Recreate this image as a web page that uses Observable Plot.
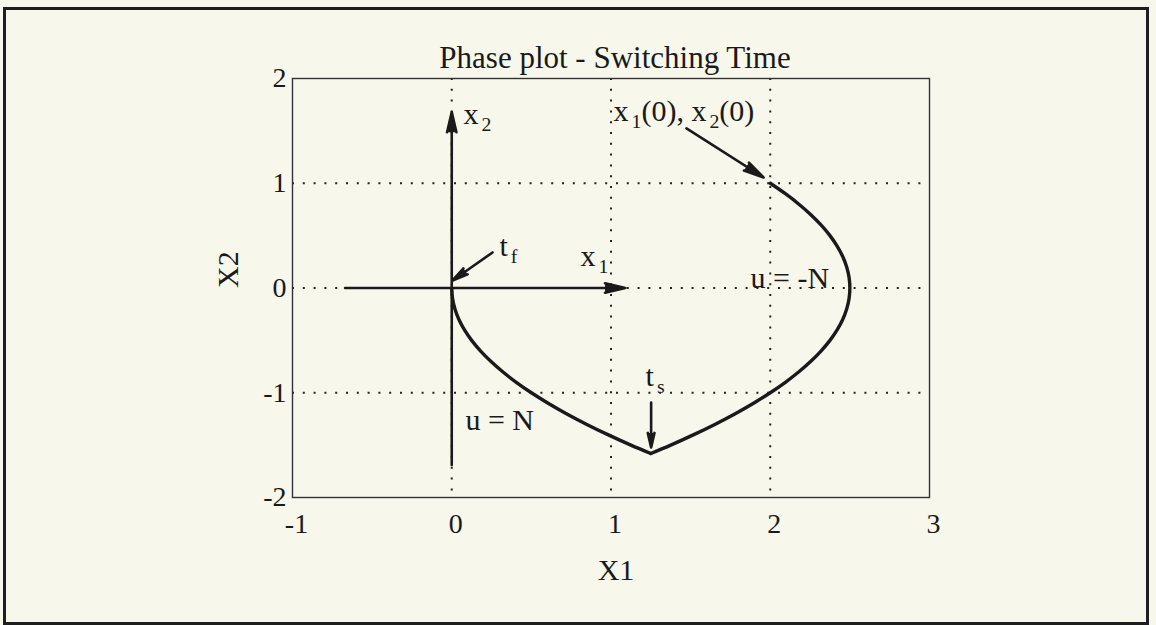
<!DOCTYPE html>
<html>
<head>
<meta charset="utf-8">
<script src="https://cdn.jsdelivr.net/npm/d3@7"></script>
<script src="https://cdn.jsdelivr.net/npm/@observablehq/plot@0.6"></script>
<style>
  html, body { margin: 0; padding: 0; background: #f7f7eb; }
  #wrap { position: relative; width: 1156px; height: 625px; overflow: hidden; }
  #border { position: absolute; left: 3px; top: 7px; width: 1146px; height: 618px;
            box-sizing: border-box; border: 3px solid #1e1e1e; }
  #chart { position: absolute; left: 0; top: 0; }
</style>
</head>
<body>
<div id="wrap">
  <div id="border"></div>
  <div id="chart"></div>
</div>
<script>
// Phase-plane trajectory of the double integrator, bang-bang control.
// Branch with u = -N: from the initial state (2, 1) down to the switching point.
const arcMinusN_x1 = [2.0, 2.095, 2.18, 2.255, 2.32, 2.375, 2.42, 2.455, 2.48, 2.495, 2.5,
                      2.495, 2.48, 2.455, 2.42, 2.375, 2.32, 2.255, 2.18, 2.095, 2.0,
                      1.895, 1.78, 1.655, 1.52, 1.375, 1.25];
const arcMinusN_x2 = [1.0, 0.9, 0.8, 0.7, 0.6, 0.5, 0.4, 0.3, 0.2, 0.1, 0.0,
                      -0.1, -0.2, -0.3, -0.4, -0.5, -0.6, -0.7, -0.8, -0.9, -1.0,
                      -1.1, -1.2, -1.3, -1.4, -1.5, -1.58];
// Branch with u = N: from the switching point t_s back to the origin at t_f.
const arcPlusN_x1 = [1.25, 1.125, 0.98, 0.845, 0.72, 0.605, 0.5, 0.405, 0.32, 0.245,
                     0.18, 0.125, 0.08, 0.045, 0.02, 0.005, 0.0];
const arcPlusN_x2 = [-1.58, -1.5, -1.4, -1.3, -1.2, -1.1, -1.0, -0.9, -0.8, -0.7,
                     -0.6, -0.5, -0.4, -0.3, -0.2, -0.1, 0.0];

// Axis ticks and grid lines
const xTicks = [-1, 0, 1, 2, 3];
const yTicks = [-2, -1, 0, 1, 2];
const xGrid = [0, 1, 2];
const yGrid = [-1, 0, 1];

// State-space axes drawn inside the plot and the pointer arrows (from -> to)
const arrowFromX1 = [0, -0.67, 0.256, 1.474, 1.252];
const arrowFromX2 = [-1.69, 0, 0.339, 1.523, -1.093];
const arrowToX1 = [0, 1.09, 0.005, 1.958, 1.252];
const arrowToX2 = [1.68, 0, 0.072, 1.055, -1.523];

// Annotations ("_" marks a subscript character)
const labelText = ["x_2", "x_1", "t_f", "x_1(0), x_2(0)", "u = -N", "u = N", "t_s"];
const labelX1 = [0.074, 0.808, 0.30, 1.016, 1.876, 0.086, 1.217];
const labelX2 = [1.656, 0.30, 0.396, 1.685, 0.091, -1.265, -0.845];

const trajectory = [
  ...arcMinusN_x1.map((v, i) => ({branch: "u = -N", x1: v, x2: arcMinusN_x2[i]})),
  ...arcPlusN_x1.map((v, i) => ({branch: "u = N", x1: v, x2: arcPlusN_x2[i]}))
];
const arrows = arrowFromX1.map((v, i) => ({
  x1: v, y1: arrowFromX2[i], x2: arrowToX1[i], y2: arrowToX2[i]
}));
const labels = labelText.map((t, i) => ({text: t, x: labelX1[i], y: labelX2[i]}));

const ink = "#1a1a1a";
const dotted = {stroke: "#222", strokeWidth: 2, strokeDasharray: "2 8.8", strokeOpacity: 1};

const chart = Plot.plot({
  width: 1156,
  height: 625,
  marginLeft: 292,
  marginRight: 227,
  marginTop: 78,
  marginBottom: 128,
  style: {
    background: "transparent",
    fontFamily: "'Liberation Serif', 'Times New Roman', serif",
    fontSize: "28px",
    color: ink
  },
  x: {domain: [-1, 3]},
  y: {domain: [-2, 2]},
  marks: [
    Plot.ruleX(xGrid, dotted),
    Plot.ruleY(yGrid, dotted),
    Plot.frame({stroke: "#333", strokeWidth: 1.4}),
    Plot.axisX({ticks: xTicks, tickSize: 0, tickPadding: 16, dx: 4,
                tickFormat: d => String(d), fontSize: 28, label: null}),
    Plot.axisY({ticks: yTicks, tickSize: 0, tickPadding: 6,
                tickFormat: d => String(d), fontSize: 28, label: null}),
    Plot.text(["X1"], {frameAnchor: "bottom", lineAnchor: "middle", dx: 5, dy: 73, fontSize: 30, fill: ink}),
    Plot.text(["X2"], {frameAnchor: "left", lineAnchor: "middle", dx: -64, rotate: -90, fontSize: 30, fill: ink}),
    Plot.text(["Phase plot - Switching Time"], {frameAnchor: "top", lineAnchor: "middle", dx: 4, dy: -20, fontSize: 31, fill: ink}),
    Plot.line(trajectory, {x: "x1", y: "x2", z: "branch", stroke: ink, strokeWidth: 3.4,
                           curve: "catmull-rom", strokeLinejoin: "round"}),
    Plot.arrow(arrows, {x1: "x1", y1: "y1", x2: "x2", y2: "y2", stroke: ink, fill: ink,
                        strokeWidth: 2.6, headLength: 12, headAngle: 26}),
    Plot.text(labels, {x: "x", y: "y", text: "text", textAnchor: "start", fontSize: 30, fill: ink})
  ]
});

// Render "_c" as a lowered, smaller subscript character
d3.select(chart).selectAll("text").each(function () {
  const s = this.textContent;
  if (!s.includes("_")) return;
  const parts = s.split(/_(\w)/);
  const t = d3.select(this).text(null);
  parts.forEach((p, i) => {
    if (!p) return;
    if (i % 2) t.append("tspan").attr("dx", 3).attr("dy", 7).attr("font-size", "0.66em").text(p);
    else t.append("tspan").attr("dy", i ? -7 : null).text(p);
  });
});

document.getElementById("chart").append(chart);
</script>
</body>
</html>
